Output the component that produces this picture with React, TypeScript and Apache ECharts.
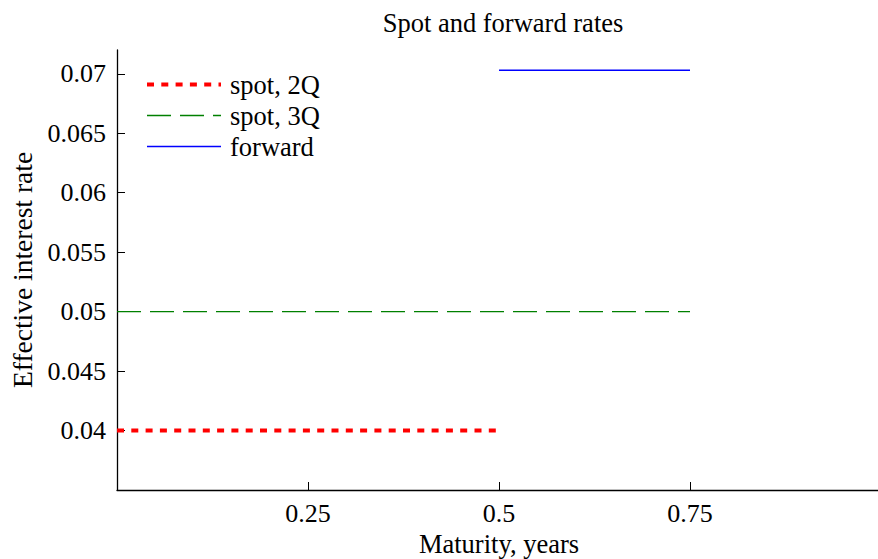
import React, { useEffect, useRef } from "react";
import * as echarts from "echarts";

const title = "Spot and forward rates";
const xName = "Maturity, years";
const yName = "Effective interest rate";
const xTicks = [0.25, 0.5, 0.75];
const yTicks = [0.04, 0.045, 0.05, 0.055, 0.06, 0.065, 0.07];
const spot2Q: [number, number][] = [[0, 0.04], [0.5, 0.04]];
const spot3Q: [number, number][] = [[0, 0.05], [0.75, 0.05]];
const forward: [number, number][] = [[0.5, 0.0703], [0.75, 0.0703]];
const seriesNames = ["spot, 2Q", "spot, 3Q", "forward"];

const FONT = "'Liberation Serif', 'Times New Roman', serif";

export default function App() {
  const ref = useRef<HTMLDivElement>(null);
  useEffect(() => {
    if (!ref.current) return;
    const chart = echarts.init(ref.current, undefined, { renderer: "svg" });
    const base = { fontFamily: FONT, fontWeight: "normal", fontStyle: "normal", color: "#000" };
    chart.setOption({
      animation: false,
      backgroundColor: "#fff",
      textStyle: { fontFamily: FONT },
      title: {
        text: title,
        left: 498,
        textAlign: "center",
        top: 4,
        textStyle: { ...base, fontSize: 26.5 },
      },
      grid: { left: 117, width: 764, top: 50, bottom: 69, containLabel: false, outerBoundsMode: "none" },
      legend: {
        left: 140,
        top: 66,
        orient: "vertical",
        itemWidth: 74,
        itemHeight: 14,
        itemGap: 4,
        itemStyle: { opacity: 0, borderWidth: 0 },
        lineStyle: { width: "inherit", type: "inherit" },
        data: seriesNames,
        textStyle: { ...base, fontSize: 26.5, lineHeight: 26, padding: [0, 0, 0, 4] },
      },
      xAxis: {
        type: "value",
        min: 0,
        max: 1,
        name: xName,
        nameLocation: "middle",
        nameGap: 33,
        nameTextStyle: { ...base, fontSize: 26.5 },
        splitLine: { show: false },
        axisLine: { show: true, lineStyle: { color: "#000", width: 1.3 } },
        axisTick: { show: true, inside: true, length: 8, customValues: xTicks, lineStyle: { color: "#000", width: 1 } },
        axisLabel: { ...base, fontSize: 26, customValues: xTicks, margin: 10, formatter: (v: number) => String(v) },
      },
      yAxis: {
        type: "value",
        min: 0.035,
        max: 0.072,
        name: yName,
        nameLocation: "middle",
        nameGap: 79,
        nameRotate: 90,
        nameTextStyle: { ...base, fontSize: 27.5 },
        splitLine: { show: false },
        axisLine: { show: true, onZero: false, lineStyle: { color: "#000", width: 1.3 } },
        axisTick: { show: true, inside: true, length: 8, customValues: yTicks, lineStyle: { color: "#000", width: 1 } },
        axisLabel: { ...base, fontSize: 26, customValues: yTicks, margin: 11, formatter: (v: number) => String(Number(v.toFixed(3))) },
      },
      series: [
        {
          name: seriesNames[0],
          type: "line",
          data: spot2Q,
          symbol: "none",
          lineStyle: { color: "#ff0000", width: 4, type: [7, 7.3] },
          itemStyle: { color: "#ff0000" },
        },
        {
          name: seriesNames[1],
          type: "line",
          data: spot3Q,
          symbol: "none",
          lineStyle: { color: "#008000", width: 1.4, type: [24, 9] },
          itemStyle: { color: "#008000" },
        },
        {
          name: seriesNames[2],
          type: "line",
          data: forward,
          symbol: "none",
          lineStyle: { color: "#0000ff", width: 1.4, type: "solid" },
          itemStyle: { color: "#0000ff" },
        },
      ],
    });
    return () => chart.dispose();
  }, []);
  return <div ref={ref} style={{ width: 878, height: 559, position: "absolute", left: 0, top: 0 }} />;
}
